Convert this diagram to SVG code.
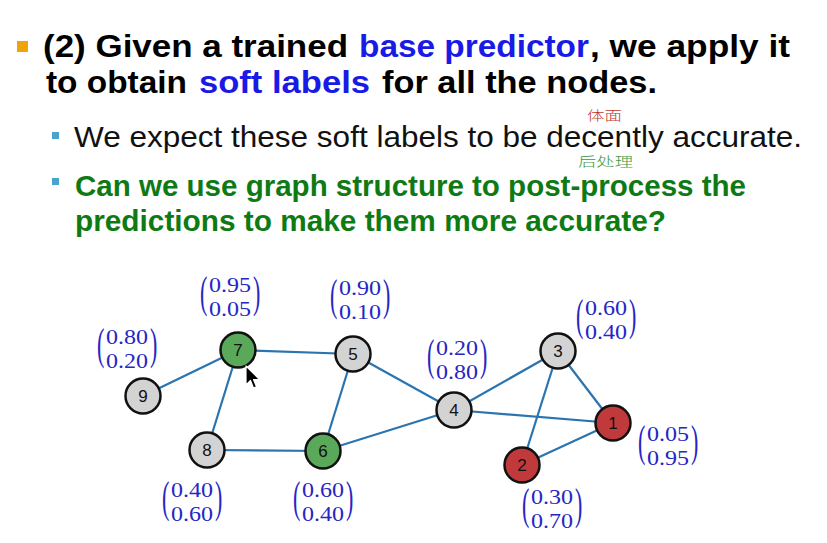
<svg xmlns="http://www.w3.org/2000/svg" width="827" height="543" viewBox="0 0 827 543">
<style>
.h{font-family:"Liberation Sans",Arial,sans-serif;font-weight:bold;font-size:31px}
.r{font-family:"Liberation Sans",Arial,sans-serif;font-size:29px;fill:#111}
.g{font-family:"Liberation Sans",Arial,sans-serif;font-weight:bold;font-size:29px;fill:#0e7a14}
.k{fill:#000}
.b{fill:#1a1ae6}
.cj{font-family:"Noto Sans CJK SC",sans-serif;font-size:13px;font-weight:300}
.edge{stroke:#2a74b0;stroke-width:2.2;fill:none}
.node{stroke:#111;stroke-width:2.5}
.gray{fill:#d3d3d3}
.grn{fill:#5aa85a}
.red{fill:#c03a3c}
.nl{font-family:"Liberation Sans",Arial,sans-serif;font-size:17px;fill:#111;text-anchor:middle}
.v{font-family:"Liberation Serif","Times New Roman",serif;font-size:21px;fill:#2626c4}
.p{font-family:"Liberation Serif","Times New Roman",serif;font-size:22px;fill:#2626c4}
</style>
<rect width="827" height="543" fill="#fff"/>
<g id="text">
<rect x="17" y="41" width="11" height="11" fill="#f0a30a"/>
<text class="h k" x="43" y="57" textLength="305" lengthAdjust="spacingAndGlyphs">(2) Given a trained</text>
<text class="h b" x="359" y="57" textLength="230" lengthAdjust="spacingAndGlyphs">base predictor</text>
<text class="h k" x="590" y="57" textLength="200" lengthAdjust="spacingAndGlyphs">, we apply it</text>
<text class="h k" x="46" y="93" textLength="141" lengthAdjust="spacingAndGlyphs">to obtain</text>
<text class="h b" x="199" y="93" textLength="171" lengthAdjust="spacingAndGlyphs">soft labels</text>
<text class="h k" x="382" y="93" textLength="275" lengthAdjust="spacingAndGlyphs">for all the nodes.</text>
<rect x="52" y="132" width="7" height="7" fill="#4aa3c8"/>
<text class="r" x="74" y="147" textLength="728" lengthAdjust="spacingAndGlyphs">We expect these soft labels to be decently accurate.</text>
<text class="cj" x="587" y="120" fill="#c0392b" textLength="35" lengthAdjust="spacingAndGlyphs">体面</text>
<rect x="52" y="178" width="7" height="7" fill="#4aa3c8"/>
<text class="cj" x="578" y="166" fill="#3c9a46" textLength="55" lengthAdjust="spacingAndGlyphs">后处理</text>
<text class="g" x="75" y="196" textLength="671" lengthAdjust="spacingAndGlyphs">Can we use graph structure to post-process the</text>
<text class="g" x="75" y="231" textLength="591" lengthAdjust="spacingAndGlyphs">predictions to make them more accurate?</text>
</g>
<g id="connectors">
<line class="edge" x1="143" y1="396" x2="238" y2="350"/>
<line class="edge" x1="238" y1="350" x2="353" y2="354"/>
<line class="edge" x1="238" y1="350" x2="207" y2="450"/>
<line class="edge" x1="207" y1="450" x2="323" y2="451"/>
<line class="edge" x1="323" y1="451" x2="353" y2="354"/>
<line class="edge" x1="353" y1="354" x2="454" y2="410"/>
<line class="edge" x1="323" y1="451" x2="454" y2="410"/>
<line class="edge" x1="454" y1="410" x2="558" y2="351"/>
<line class="edge" x1="454" y1="410" x2="613" y2="423"/>
<line class="edge" x1="558" y1="351" x2="613" y2="423"/>
<line class="edge" x1="558" y1="351" x2="522" y2="465"/>
<line class="edge" x1="522" y1="465" x2="613" y2="423"/>
</g>
<g id="node7"><circle class="node grn" cx="238" cy="350" r="17.5"/><text class="nl" x="238" y="356">7</text></g>
<g id="node5"><circle class="node gray" cx="353" cy="354" r="17.5"/><text class="nl" x="353" y="360">5</text></g>
<g id="node9"><circle class="node gray" cx="143" cy="396" r="17.5"/><text class="nl" x="143" y="402">9</text></g>
<g id="node8"><circle class="node gray" cx="207" cy="450" r="17.5"/><text class="nl" x="207" y="456">8</text></g>
<g id="node6"><circle class="node grn" cx="323" cy="451" r="17.5"/><text class="nl" x="323" y="457">6</text></g>
<g id="node4"><circle class="node gray" cx="454" cy="410" r="17.5"/><text class="nl" x="454" y="416">4</text></g>
<g id="node3"><circle class="node gray" cx="558" cy="351" r="17.5"/><text class="nl" x="558" y="357">3</text></g>
<g id="node1"><circle class="node red" cx="613" cy="423" r="17.5"/><text class="nl" x="613" y="429">1</text></g>
<g id="node2"><circle class="node red" cx="522" cy="465" r="17.5"/><text class="nl" x="522" y="471">2</text></g>
<g id="labels">
<g transform="translate(200,278)"><text class="p" transform="translate(0,29) scale(1,2)">(</text><text class="v" x="9" y="14" textLength="42" lengthAdjust="spacingAndGlyphs">0.95</text><text class="v" x="9" y="38" textLength="42" lengthAdjust="spacingAndGlyphs">0.05</text><text class="p" transform="translate(53,29) scale(1,2)">)</text></g>
<g transform="translate(330,281)"><text class="p" transform="translate(0,29) scale(1,2)">(</text><text class="v" x="9" y="14" textLength="42" lengthAdjust="spacingAndGlyphs">0.90</text><text class="v" x="9" y="38" textLength="42" lengthAdjust="spacingAndGlyphs">0.10</text><text class="p" transform="translate(53,29) scale(1,2)">)</text></g>
<g transform="translate(97,330)"><text class="p" transform="translate(0,29) scale(1,2)">(</text><text class="v" x="9" y="14" textLength="42" lengthAdjust="spacingAndGlyphs">0.80</text><text class="v" x="9" y="38" textLength="42" lengthAdjust="spacingAndGlyphs">0.20</text><text class="p" transform="translate(53,29) scale(1,2)">)</text></g>
<g transform="translate(162,483)"><text class="p" transform="translate(0,29) scale(1,2)">(</text><text class="v" x="9" y="14" textLength="42" lengthAdjust="spacingAndGlyphs">0.40</text><text class="v" x="9" y="38" textLength="42" lengthAdjust="spacingAndGlyphs">0.60</text><text class="p" transform="translate(53,29) scale(1,2)">)</text></g>
<g transform="translate(293,483)"><text class="p" transform="translate(0,29) scale(1,2)">(</text><text class="v" x="9" y="14" textLength="42" lengthAdjust="spacingAndGlyphs">0.60</text><text class="v" x="9" y="38" textLength="42" lengthAdjust="spacingAndGlyphs">0.40</text><text class="p" transform="translate(53,29) scale(1,2)">)</text></g>
<g transform="translate(427,341)"><text class="p" transform="translate(0,29) scale(1,2)">(</text><text class="v" x="9" y="14" textLength="42" lengthAdjust="spacingAndGlyphs">0.20</text><text class="v" x="9" y="38" textLength="42" lengthAdjust="spacingAndGlyphs">0.80</text><text class="p" transform="translate(53,29) scale(1,2)">)</text></g>
<g transform="translate(576,301)"><text class="p" transform="translate(0,29) scale(1,2)">(</text><text class="v" x="9" y="14" textLength="42" lengthAdjust="spacingAndGlyphs">0.60</text><text class="v" x="9" y="38" textLength="42" lengthAdjust="spacingAndGlyphs">0.40</text><text class="p" transform="translate(53,29) scale(1,2)">)</text></g>
<g transform="translate(638,427)"><text class="p" transform="translate(0,29) scale(1,2)">(</text><text class="v" x="9" y="14" textLength="42" lengthAdjust="spacingAndGlyphs">0.05</text><text class="v" x="9" y="38" textLength="42" lengthAdjust="spacingAndGlyphs">0.95</text><text class="p" transform="translate(53,29) scale(1,2)">)</text></g>
<g transform="translate(522,490)"><text class="p" transform="translate(0,29) scale(1,2)">(</text><text class="v" x="9" y="14" textLength="42" lengthAdjust="spacingAndGlyphs">0.30</text><text class="v" x="9" y="38" textLength="42" lengthAdjust="spacingAndGlyphs">0.70</text><text class="p" transform="translate(53,29) scale(1,2)">)</text></g>
</g>
<polygon points="246,366 246,385 250.5,380.5 253.5,388 256.5,386.8 253.5,379.5 259.5,379.5" fill="#000" stroke="#fff" stroke-width="1.2" stroke-linejoin="round"/>
</svg>
